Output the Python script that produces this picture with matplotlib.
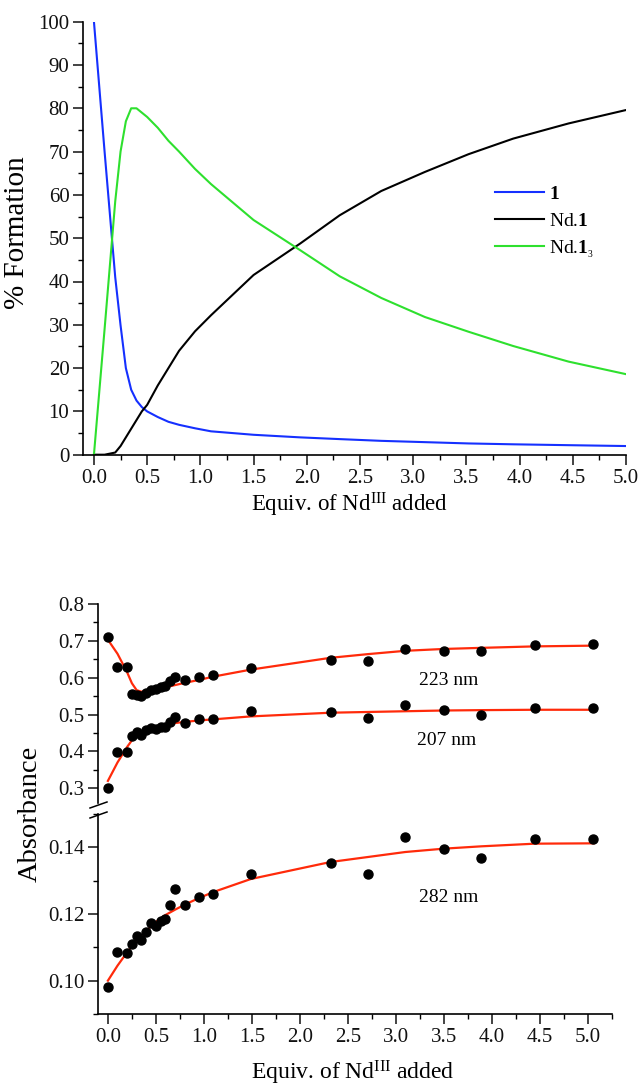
import matplotlib
matplotlib.use("Agg")
import matplotlib.pyplot as plt
from matplotlib.lines import Line2D
from matplotlib.ticker import MultipleLocator, FormatStrFormatter

plt.rcParams["font.family"] = ["Liberation Serif", "DejaVu Serif"]
plt.rcParams["mathtext.fontset"] = "custom"
plt.rcParams["mathtext.rm"] = "Liberation Serif"
plt.rcParams["mathtext.bf"] = "Liberation Serif:bold"
plt.rcParams["mathtext.it"] = "Liberation Serif:italic"

# speciation model (% formation vs equivalents of Nd)
eq_model = [0, 0.1, 0.2, 0.25, 0.3, 0.35, 0.4, 0.45, 0.5, 0.6, 0.7, 0.8, 0.95,
            1.1, 1.5, 1.94, 2.31, 2.70, 3.11, 3.52, 3.94, 4.46, 5.0]
pct_L = [100, 70, 41, 29.9, 20, 15, 12.5, 11, 10, 8.7, 7.6, 6.9, 6.1,
         5.4, 4.6, 4.0, 3.6, 3.2, 2.9, 2.6, 2.4, 2.2, 2.0]
pct_NdL = [0, 0, 0.5, 2, 4, 6, 8, 10, 11.5, 16, 20, 24, 28.5,
           32.2, 41.5, 48.8, 55.3, 60.9, 65.3, 69.4, 73.0, 76.5, 79.6]
pct_NdL3 = [0, 29, 58.5, 70, 77, 80, 80, 79, 78, 75.5, 72.5, 70, 66,
            62.5, 54.2, 47.2, 41.2, 36.2, 31.8, 28.4, 25.1, 21.5, 18.6]

# UV-vis titration: measured absorbances and fitted curves
eq_abs = [0, 0.1, 0.2, 0.25, 0.3, 0.35, 0.4, 0.45, 0.5, 0.55, 0.6, 0.65, 0.7,
          0.8, 0.95, 1.1, 1.49, 2.32, 2.71, 3.1, 3.5, 3.89, 4.45, 5.06]
abs_223 = [0.711, 0.628, 0.629, 0.555, 0.553, 0.551, 0.558, 0.566, 0.569, 0.574,
           0.577, 0.590, 0.602, 0.593, 0.602, 0.607, 0.626, 0.648, 0.646, 0.677,
           0.672, 0.673, 0.689, 0.691]
fit_223 = [0.703, 0.665, 0.615, 0.585, 0.566, 0.562, 0.563, 0.565, 0.568, 0.571,
           0.574, 0.577, 0.580, 0.586, 0.594, 0.603, 0.622, 0.654, 0.664, 0.673,
           0.678, 0.681, 0.685, 0.687]
abs_207 = [0.302, 0.399, 0.399, 0.443, 0.454, 0.445, 0.457, 0.463, 0.461, 0.465,
           0.466, 0.479, 0.493, 0.478, 0.487, 0.489, 0.511, 0.507, 0.490, 0.526,
           0.512, 0.500, 0.518, 0.517]
fit_207 = [0.320, 0.370, 0.412, 0.430, 0.443, 0.452, 0.458, 0.463, 0.467, 0.470,
           0.473, 0.475, 0.477, 0.480, 0.484, 0.487, 0.495, 0.505, 0.507, 0.509,
           0.511, 0.512, 0.513, 0.513]
abs_282 = [0.0982, 0.1087, 0.1082, 0.1109, 0.1134, 0.1122, 0.1145, 0.1172, 0.1164,
           0.1179, 0.1184, 0.1226, 0.1275, 0.1227, 0.1252, 0.1260, 0.1319, 0.1354,
           0.1320, 0.1430, 0.1395, 0.1368, 0.1424, 0.1424]
fit_282 = [0.1000, 0.1045, 0.1085, 0.1103, 0.1120, 0.1135, 0.1150, 0.1163, 0.1176,
           0.1187, 0.1197, 0.1205, 0.1213, 0.1228, 0.1248, 0.1266, 0.1305, 0.1356,
           0.1371, 0.1386, 0.1396, 0.1403, 0.1411, 0.1412]

W, H = 639, 1086
fig = plt.figure(figsize=(W / 100, H / 100), dpi=100)


def box(x0, y0, x1, y1):
    # pixel box (top-left origin) -> figure fraction rect
    return [x0 / W, 1 - y1 / H, (x1 - x0) / W, (y1 - y0) / H]


def style(ax, bottom=True):
    for s in ("top", "right"):
        ax.spines[s].set_visible(False)
    if not bottom:
        ax.spines["bottom"].set_visible(False)
    for s in ax.spines.values():
        s.set_linewidth(1.2)
    ax.tick_params(which="major", direction="out", length=7, width=1.1,
                   labelsize=15, colors="#111111", pad=3)
    ax.tick_params(which="minor", direction="out", length=3.5, width=1.0)
    if not bottom:
        ax.tick_params(axis="x", which="both", bottom=False, labelbottom=False)


nd_label = r"Equiv. of Nd$^{\mathrm{III}}$ added"

# ---- top: speciation ----
ax1 = fig.add_axes(box(83.3, 21.7, 626, 454.7))
ax1.plot(eq_model, pct_L, color="#1530ff", lw=1.5, label=r"$\mathbf{1}$")
ax1.plot(eq_model, pct_NdL, color="black", lw=1.5, label=r"Nd.$\mathbf{1}$")
ax1.plot(eq_model, pct_NdL3, color="#2ee02e", lw=1.5, label=r"Nd.$\mathbf{1}_{_3}$")
ax1.set_xlim(-0.1, 5.0)
ax1.set_ylim(0, 100)
ax1.xaxis.set_major_locator(MultipleLocator(0.5))
ax1.xaxis.set_minor_locator(MultipleLocator(0.25))
ax1.xaxis.set_major_formatter(FormatStrFormatter("%.1f"))
ax1.yaxis.set_major_locator(MultipleLocator(10))
ax1.yaxis.set_minor_locator(MultipleLocator(5))
style(ax1)
ax1.set_xlabel(nd_label, fontsize=16.5)
ax1.xaxis.set_label_coords((350 - 83.3) / 542.7, (454.7 - 491) / 433)
ax1.set_ylabel("% Formation", fontsize=21)
ax1.yaxis.set_label_coords((30 - 83.3) / 542.7, (454.7 - 233) / 433)
ax1.legend(loc="upper left", bbox_to_anchor=(0.727, 0.662), frameon=False,
           fontsize=14, handlelength=2.5, handletextpad=0.25, labelspacing=0.45)

# ---- bottom: absorbance with broken y axis ----
x_lo, x_hi = -0.1, 5.25
ax2 = fig.add_axes(box(98.3, 604, 611.7, 803))
ax3 = fig.add_axes(box(98.3, 814, 611.7, 1014), sharex=ax2)

for ax, a, f in ((ax2, abs_223, fit_223), (ax2, abs_207, fit_207), (ax3, abs_282, fit_282)):
    ax.plot(eq_abs, f, color="#ff2a0a", lw=1.6, zorder=2)
    ax.plot(eq_abs, a, "o", color="black", ms=6.5, zorder=3, clip_on=False)

ax2.set_xlim(x_lo, x_hi)
ax2.set_ylim(0.26, 0.8)
ax2.yaxis.set_major_locator(MultipleLocator(0.1))
ax2.yaxis.set_minor_locator(MultipleLocator(0.05))
ax2.yaxis.set_major_formatter(FormatStrFormatter("%.1f"))
style(ax2, bottom=False)

ax3.set_ylim(0.09, 0.15)
ax3.set_yticks([0.10, 0.12, 0.14])
ax3.yaxis.set_minor_locator(MultipleLocator(0.01))
ax3.yaxis.set_major_formatter(FormatStrFormatter("%.2f"))
ax3.xaxis.set_major_locator(MultipleLocator(0.5))
ax3.xaxis.set_minor_locator(MultipleLocator(0.25))
ax3.xaxis.set_major_formatter(FormatStrFormatter("%.1f"))
style(ax3)
ax3.set_xlabel(nd_label, fontsize=17)
ax3.xaxis.set_label_coords((353 - 98.3) / 513.4, (1014 - 1059) / 200)

ax2.text(3.55, 0.593, "223 nm", fontsize=14, ha="center", va="center")
ax2.text(3.53, 0.429, "207 nm", fontsize=14, ha="center", va="center")
ax3.text(3.55, 0.1248, "282 nm", fontsize=14, ha="center", va="center")

fig.text(30 / W, 1 - 814 / H, "Absorbance", rotation=90, fontsize=20.5,
         ha="center", va="center")

# break marks on the y axis
for yb in (805, 815):
    fig.add_artist(Line2D([90 / W, 107 / W], [1 - (yb + 3) / H, 1 - (yb - 3) / H],
                          color="black", lw=1.1))

fig.savefig("out.png", dpi=100)
